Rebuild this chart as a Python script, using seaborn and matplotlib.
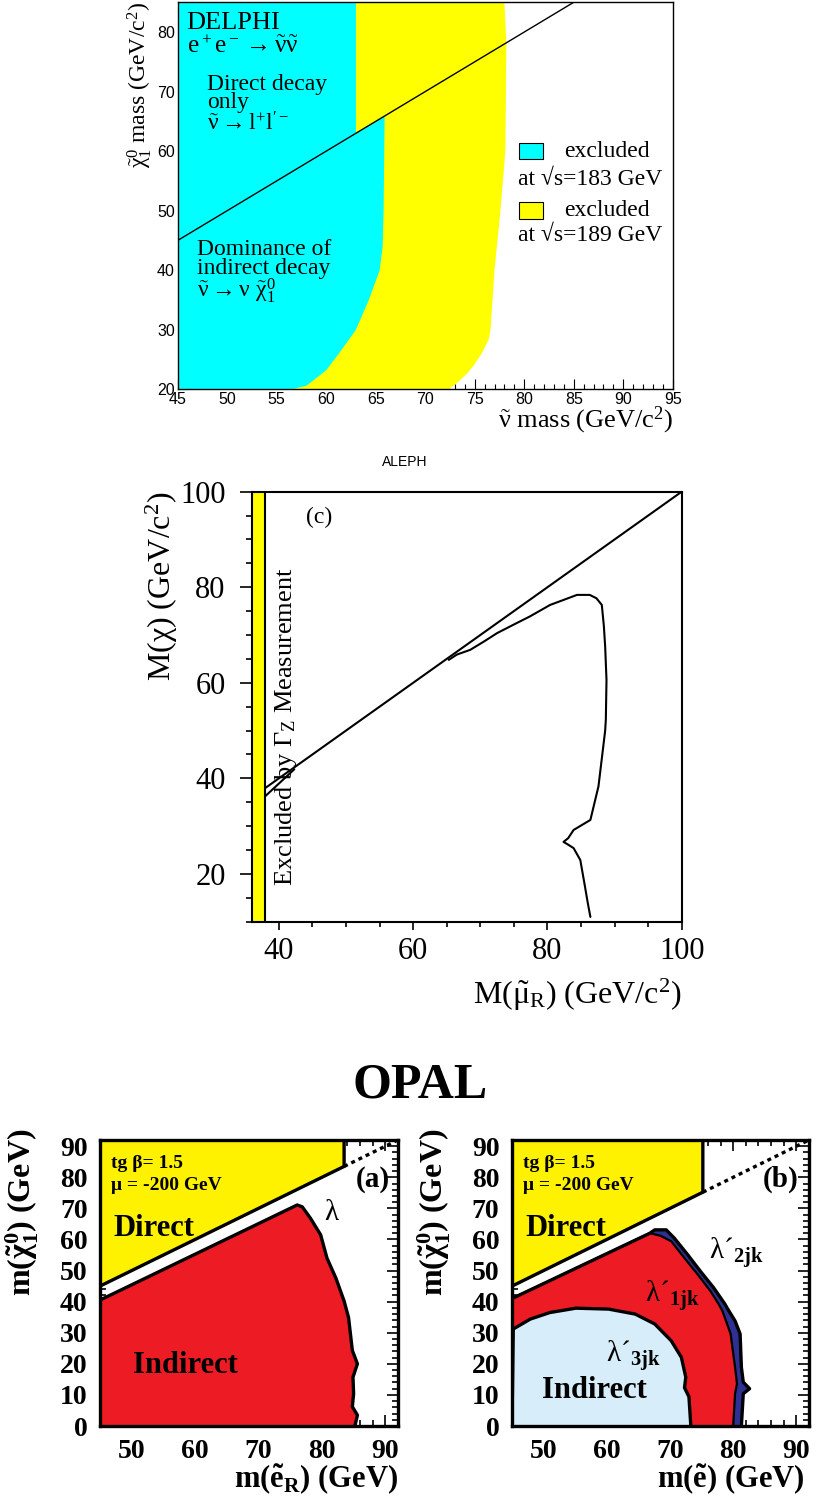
import matplotlib
matplotlib.use("Agg")
import matplotlib.pyplot as plt
from matplotlib.patches import Rectangle
from matplotlib.ticker import MultipleLocator
import seaborn as sns

# ---------------- DELPHI data ----------------
delphi_diag_x = [45, 85]
delphi_diag_y = [45, 85]
delphi_cyan_x = [45, 63.0, 63.0, 65.9, 65.8, 65.7, 65.4, 64.3, 63.0, 61.5, 60.0, 58.0, 56.5, 45]
delphi_cyan_y = [85, 85, 63.0, 65.9, 50, 44, 40, 35, 30, 26.5, 23.2, 20.6, 20, 20]
delphi_yellow_x = [45, 78.0, 78.2, 78.1, 77.6, 77.0, 76.6, 76.4, 75.7, 74.9, 74.2, 73.3, 72.4, 45]
delphi_yellow_y = [85, 85, 78, 60, 50, 40, 30, 28.3, 26, 24, 22.6, 21.2, 20, 20]
delphi_xticks = [45, 50, 55, 60, 65, 70, 75, 80, 85, 90, 95]
delphi_yticks = [20, 30, 40, 50, 60, 70, 80]

# ---------------- ALEPH data ----------------
aleph_gz_limit = [36, 38]
aleph_diag_x = [38, 100]
aleph_diag_y = [38, 100]
aleph_cont_x = [65.3, 66.5, 68.5, 70.5, 72.5, 75.0, 77.4, 80.4, 82.5, 84.4, 86.3, 87.3, 88.1, 88.4,
                88.6, 88.8, 88.7, 88.6, 88.2, 87.6, 86.4, 83.9, 83.1, 82.4, 83.0, 83.9, 84.9, 85.6,
                86.0, 86.4]
aleph_cont_y = [64.8, 65.9, 66.9, 68.6, 70.4, 72.2, 73.9, 76.3, 77.4, 78.4, 78.4, 77.7, 76.3, 72.0,
                67.6, 60.6, 52.3, 50.0, 45.3, 38.3, 31.3, 29.2, 27.5, 26.7, 26.2, 25.4, 22.9, 17.3,
                14.0, 11.0]
aleph_low_x = [38.0, 42.3]
aleph_low_y = [36.3, 41.9]
aleph_xticks = [40, 60, 80, 100]
aleph_yticks = [20, 40, 60, 80, 100]

# ---------------- OPAL data ----------------
opal_a_yellow_x = [45, 83.5, 83.5, 45]
opal_a_yellow_y = [45, 83.5, 92, 92]
opal_a_dot_x = [83.5, 92]
opal_a_dot_y = [83.5, 92]
opal_a_red_x = [45, 76.1, 76.9, 78.2, 79.8, 80.8, 82.2, 83.5, 84.2, 84.5, 84.8, 85.6, 84.9, 85.0,
                84.8, 85.6, 85.2, 45]
opal_a_red_y = [40.5, 71.1, 70.5, 66.8, 61.5, 54.0, 47.6, 40.2, 34.9, 29.6, 24.3, 20.0, 15.7, 10.4,
                6.2, 3.5, 0, 0]

opal_b_yellow_x = [45, 75.2, 75.2, 45]
opal_b_yellow_y = [45, 75.2, 92, 92]
opal_b_dot_x = [75.2, 92]
opal_b_dot_y = [75.2, 92]
opal_b_navy_x = [45, 66.8, 67.6, 69.4, 70.7, 72.8, 74.8, 76.9, 78.7, 79.0, 80.3, 81.1, 81.3, 81.6,
                 82.6, 81.6, 81.3, 45]
opal_b_navy_y = [41, 62.0, 63.1, 63.1, 60.4, 55.1, 49.8, 44.5, 39.2, 38.1, 33.8, 29.6, 18.9, 14.1,
                 12.0, 10.4, 0, 0]
opal_b_red_x = [45, 66.8, 68.5, 70.2, 72.3, 74.4, 76.4, 77.7, 78.3, 79.6, 79.8, 80.3, 80.6, 80.3,
                80.0, 45]
opal_b_red_y = [41, 62.0, 61.2, 59.4, 54.0, 48.7, 43.4, 39.2, 37.0, 29.6, 26.4, 18.9, 13.6, 10.4,
                0, 0]
opal_b_lblue_x = [45, 45.2, 47.9, 51.0, 55.1, 60.3, 64.5, 67.6, 70.2, 71.8, 72.5, 72.3, 73.0, 73.3, 45]
opal_b_lblue_y = [0, 31.2, 34.4, 36.5, 37.9, 37.6, 36.0, 32.8, 27.4, 22.1, 15.7, 12.3, 9.4, 0, 0]
opal_xticks = [50, 60, 70, 80, 90]
opal_yticks = [0, 10, 20, 30, 40, 50, 60, 70, 80, 90]

# ---------------- style ----------------
sns.set_theme(style="white")
plt.rcParams['font.family'] = ['Liberation Serif', 'DejaVu Sans']
plt.rcParams['mathtext.fontset'] = 'custom'
plt.rcParams['mathtext.rm'] = 'Liberation Serif'
plt.rcParams['mathtext.it'] = 'Liberation Serif'
plt.rcParams['mathtext.bf'] = 'Liberation Serif:bold'
plt.rcParams['axes.edgecolor'] = 'black'
plt.rcParams['xtick.color'] = 'black'
plt.rcParams['ytick.color'] = 'black'
plt.rcParams['text.color'] = 'black'

W, H = 817, 1500
fig = plt.figure(figsize=(W / 100, H / 100), dpi=100)


def axes_px(left, top, right, bottom):
    return fig.add_axes([left / W, 1 - bottom / H, (right - left) / W, (bottom - top) / H])


def line(ax, x, y, **kw):
    sns.lineplot(x=x, y=y, ax=ax, sort=False, estimator=None, legend=False, **kw)


# =============== DELPHI ===============
ax1 = axes_px(177.7, 2.3, 672.7, 389.3)
ax1.fill(delphi_yellow_x, delphi_yellow_y, color='#ffff00', lw=0)
ax1.fill(delphi_cyan_x, delphi_cyan_y, color='#00ffff', lw=0)
line(ax1, delphi_diag_x, delphi_diag_y, color='black', lw=1.0)
ax1.set_xlim(45, 95)
ax1.set_ylim(20, 85)
ax1.set_xticks(delphi_xticks, [str(v) for v in delphi_xticks])
ax1.set_yticks(delphi_yticks, [str(v) for v in delphi_yticks])
ax1.xaxis.set_minor_locator(MultipleLocator(1))
ax1.yaxis.set_minor_locator(MultipleLocator(2))
ax1.tick_params(which='both', direction='in', bottom=True, left=True, top=False, right=False,
                labelsize=11.5, pad=2, width=0.8)
ax1.tick_params(which='major', length=7)
ax1.tick_params(which='minor', length=3.5)
for lab in ax1.get_xticklabels() + ax1.get_yticklabels():
    lab.set_fontfamily('Liberation Sans')
for s in ax1.spines.values():
    s.set_linewidth(1.0)
ax1.set_xlabel('')
ax1.set_ylabel('')
ax1.text(1.0, -0.08, r"$\tilde{\nu}$ mass (GeV/c$^2$)", transform=ax1.transAxes,
         ha='right', va='center', fontsize=19)
ax1.text(-0.078, 1.0, r"$\tilde{\chi}^0_1$ mass (GeV/c$^2$)", transform=ax1.transAxes,
         rotation=90, ha='center', va='top', fontsize=17)
ax1.text(45.9, 81.6, "DELPHI", ha='left', va='center', fontsize=19)
ax1.text(45.9, 77.6, r"e$^+$e$^-\rightarrow\tilde{\nu}\tilde{\nu}$", ha='left', va='center',
         fontsize=18)
ax1.text(48.0, 69.7, "Direct decay\nonly", ha='left', va='center', fontsize=17, linespacing=0.85)
ax1.text(48.0, 64.6, r"$\tilde{\nu}\rightarrow$l$^{+}$l$^{\prime -}$", ha='left', va='center',
         fontsize=17)
ax1.text(46.9, 41.9, "Dominance of\nindirect decay", ha='left', va='center', fontsize=17, linespacing=0.85)
ax1.text(46.9, 36.6, r"$\tilde{\nu}\rightarrow\nu\ \tilde{\chi}^0_1$", ha='left', va='center',
         fontsize=17)
ax1.add_patch(Rectangle((79.5, 58.6), 2.4, 2.8, facecolor='#00ffff', edgecolor='black', lw=0.8))
ax1.text(84.0, 60.0, "excluded", ha='left', va='center', fontsize=17)
ax1.text(79.4, 55.3, "at √s=183 GeV", ha='left', va='center', fontsize=17)
ax1.add_patch(Rectangle((79.5, 48.6), 2.4, 2.8, facecolor='#ffff00', edgecolor='black', lw=0.8))
ax1.text(84.0, 50.0, "excluded", ha='left', va='center', fontsize=17)
ax1.text(79.4, 45.9, "at √s=189 GeV", ha='left', va='center', fontsize=17)

# =============== ALEPH ===============
ax2 = axes_px(252.0, 491.7, 681.7, 921.7)
ax2.fill_betweenx([10, 100], aleph_gz_limit[0], aleph_gz_limit[1], color='#ffff00', lw=0)
line(ax2, [aleph_gz_limit[1], aleph_gz_limit[1]], [10, 100], color='black', lw=1.5)
line(ax2, aleph_diag_x, aleph_diag_y, color='black', lw=1.5)
line(ax2, aleph_cont_x, aleph_cont_y, color='black', lw=1.5)
line(ax2, aleph_low_x, aleph_low_y, color='black', lw=1.5)
ax2.set_xlim(36, 100)
ax2.set_ylim(10, 100)
ax2.set_xticks(aleph_xticks, [str(v) for v in aleph_xticks])
ax2.set_yticks(aleph_yticks, [str(v) for v in aleph_yticks])
ax2.xaxis.set_minor_locator(MultipleLocator(5))
ax2.yaxis.set_minor_locator(MultipleLocator(5))
ax2.tick_params(which='both', direction='out', bottom=True, left=True, top=False, right=False,
                labelsize=22, width=1.2)
ax2.tick_params(axis='x', which='major', length=6, pad=5)
ax2.tick_params(axis='x', which='minor', length=3.5)
ax2.tick_params(axis='y', which='major', length=9, pad=10)
ax2.tick_params(axis='y', which='minor', length=4.5)
for s in ax2.spines.values():
    s.set_linewidth(1.5)
ax2.set_xlabel('')
ax2.set_ylabel('')
ax2.text(1.0, -0.17, r"M($\tilde{\mu}_{\mathrm{R}}$) (GeV/c$^2$)", transform=ax2.transAxes,
         ha='right', va='center', fontsize=23)
ax2.text(-0.21, 1.0, r"M($\chi$) (GeV/c$^2$)", transform=ax2.transAxes,
         rotation=90, ha='center', va='top', fontsize=23)
ax2.text(44.0, 94.6, "(c)", ha='left', va='center', fontsize=17)
ax2.text(41.0, 17.5, r"Excluded by $\Gamma_{\mathrm{Z}}$ Measurement", rotation=90,
         ha='center', va='bottom', fontsize=19)
fig.text(405 / W, 1 - 462 / H, "ALEPH", ha='center', va='center', fontsize=10,
         family='Liberation Sans')

# =============== OPAL ===============
fig.text(420 / W, 1 - 1085 / H, "OPAL", ha='center', va='center', fontsize=36, fontweight='bold')

YEL = '#fff200'
RED = '#ed1c24'
NAVY = '#2e3192'
LBLUE = '#d7eefa'
LW = 2.4


def opal_frame(ax, xlabel):
    ax.set_xlim(45, 92)
    ax.set_ylim(0, 92)
    ax.set_xticks(opal_xticks, [str(v) for v in opal_xticks])
    ax.set_yticks(opal_yticks, [str(v) for v in opal_yticks])
    ax.xaxis.set_minor_locator(MultipleLocator(2))
    ax.yaxis.set_minor_locator(MultipleLocator(2))
    ax.tick_params(which='both', direction='in', bottom=True, left=True, top=True, right=True,
                   labelsize=20, width=1.2)
    ax.tick_params(axis='y', which='both', pad=9)
    ax.tick_params(axis='x', which='both', pad=9)
    ax.tick_params(which='major', length=8)
    ax.tick_params(which='minor', length=4)
    for lab in ax.get_xticklabels() + ax.get_yticklabels():
        lab.set_fontweight('bold')
    for s in ax.spines.values():
        s.set_linewidth(2.4)
    ax.set_xlabel('')
    ax.set_ylabel('')
    ax.text(-0.26, 1.04, r"$\mathbf{m(\tilde{\chi}^0_1)\ (GeV)}$", transform=ax.transAxes,
            rotation=90, ha='center', va='top', fontsize=23)
    ax.text(xlabel[1], -0.19, xlabel[0], transform=ax.transAxes, ha='right', va='center',
            fontsize=22)
    ax.text(46.8, 84.5, "tg β= 1.5", ha='left', va='center', fontsize=14, fontweight='bold')
    ax.text(46.8, 77.5, "μ = -200 GeV", ha='left', va='center', fontsize=14, fontweight='bold')
    ax.text(47.1, 63.5, "Direct", ha='left', va='center', fontsize=22, fontweight='bold')


# (a)
ax3 = axes_px(100, 1140, 398, 1426)
ax3.fill(opal_a_yellow_x, opal_a_yellow_y, color=YEL, lw=0)
ax3.fill(opal_a_red_x, opal_a_red_y, color=RED, lw=0)
line(ax3, opal_a_yellow_x[:3], opal_a_yellow_y[:3], color='black', lw=LW)
line(ax3, opal_a_red_x[:-1], opal_a_red_y[:-1], color='black', lw=LW)
line(ax3, opal_a_dot_x, opal_a_dot_y, color='black', lw=LW, linestyle=(0, (1.2, 1.2)))
opal_frame(ax3, (r"$\mathbf{m(\tilde{e}_R)\ (GeV)}$", 1.0))
ax3.text(50.2, 19.5, "Indirect", ha='left', va='center', fontsize=22, fontweight='bold')
ax3.text(80.3, 68.5, "λ", ha='left', va='center', fontsize=21)
ax3.text(88.0, 79.3, "(a)", ha='center', va='center', fontsize=21, fontweight='bold')

# (b)
ax4 = axes_px(512, 1140, 809, 1426)
ax4.fill(opal_b_yellow_x, opal_b_yellow_y, color=YEL, lw=0)
ax4.fill(opal_b_navy_x, opal_b_navy_y, color=NAVY, lw=0)
ax4.fill(opal_b_red_x, opal_b_red_y, color=RED, lw=0)
ax4.fill(opal_b_lblue_x, opal_b_lblue_y, color=LBLUE, lw=0)
line(ax4, opal_b_yellow_x[:3], opal_b_yellow_y[:3], color='black', lw=LW)
line(ax4, opal_b_navy_x[:-1], opal_b_navy_y[:-1], color='black', lw=LW)
line(ax4, opal_b_red_x[:-1], opal_b_red_y[:-1], color='black', lw=1.6)
line(ax4, opal_b_lblue_x[:-1], opal_b_lblue_y[:-1], color='black', lw=LW)
line(ax4, opal_b_dot_x, opal_b_dot_y, color='black', lw=LW, linestyle=(0, (1.2, 1.2)))
opal_frame(ax4, (r"$\mathbf{m(\tilde{e})\ (GeV)}$", 0.985))
ax4.text(49.8, 11.5, "Indirect", ha='left', va='center', fontsize=22, fontweight='bold')
ax4.text(76.2, 55.5, r"λ´$_{\mathbf{2jk}}$", ha='left', va='center', fontsize=21)
ax4.text(66.0, 41.5, r"λ´$_{\mathbf{1jk}}$", ha='left', va='center', fontsize=21)
ax4.text(59.9, 22.5, r"λ´$_{\mathbf{3jk}}$", ha='left', va='center', fontsize=21)
ax4.text(87.5, 79.5, "(b)", ha='center', va='center', fontsize=21, fontweight='bold')

fig.savefig("out.png", dpi=100)
